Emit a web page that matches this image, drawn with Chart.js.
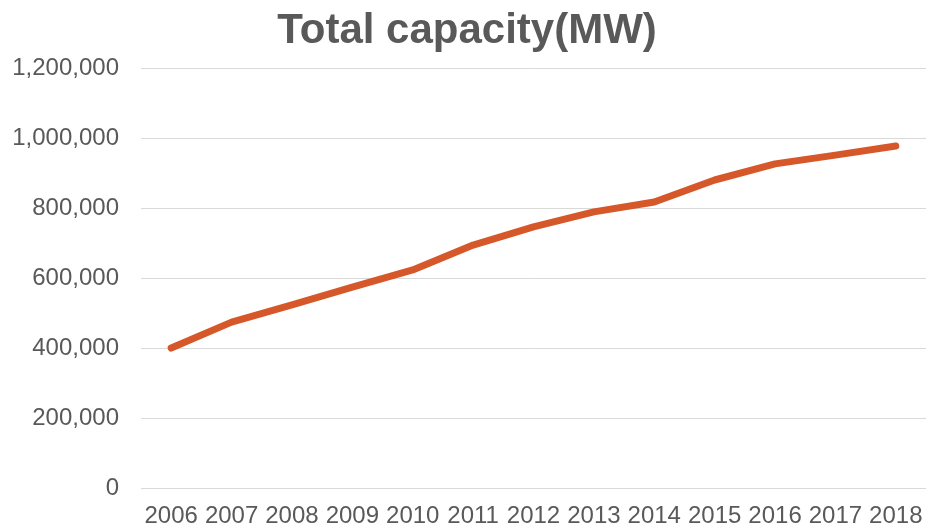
<!DOCTYPE html>
<html>
<head>
<meta charset="utf-8">
<script src="https://cdn.jsdelivr.net/npm/chart.js@4"></script>
<style>
  html, body { margin: 0; padding: 0; background: #ffffff; }
  #wrap { width: 926px; height: 532px; }
</style>
</head>
<body>
<div id="wrap"><canvas id="c" width="926" height="532"></canvas></div>
<script>
const years = ['2006','2007','2008','2009','2010','2011','2012','2013','2014','2015','2016','2017','2018'];
const capacityMW = [400000, 474000, 523000, 574000, 623000, 694000, 746000, 789000, 817000, 880000, 926000, 951000, 977000];
const yTicks = [0, 200000, 400000, 600000, 800000, 1000000, 1200000];
const chartTitle = 'Total capacity(MW)';

const textColor = '#595959';
const fontFamily = '"Liberation Sans", Arial, sans-serif';

new Chart(document.getElementById('c'), {
  type: 'line',
  data: {
    labels: years,
    datasets: [{
      label: chartTitle,
      data: capacityMW,
      borderColor: '#D6582A',
      backgroundColor: '#D6582A',
      borderWidth: 7,
      borderCapStyle: 'round',
      borderJoinStyle: 'round',
      tension: 0,
      pointRadius: 0,
      pointHoverRadius: 0,
      fill: false
    }]
  },
  options: {
    responsive: false,
    animation: false,
    layout: { padding: { left: 8, right: 0, top: 0, bottom: 0 } },
    plugins: {
      legend: { display: false },
      tooltip: { enabled: false },
      title: {
        display: true,
        text: chartTitle,
        color: textColor,
        font: { family: fontFamily, size: 42, weight: 'bold' },
        padding: { top: 6, bottom: 11.6 }
      }
    },
    scales: {
      x: {
        offset: true,
        grid: { display: false, drawTicks: false },
        border: { display: false },
        ticks: {
          color: textColor,
          font: { family: fontFamily, size: 24 },
          autoSkip: false,
          maxRotation: 0,
          minRotation: 0,
          padding: 14
        },
        afterFit: (s) => { s.height = 44; s.paddingLeft = 0; s.paddingRight = 0; }
      },
      y: {
        min: 0,
        max: 1200000,
        afterBuildTicks: (s) => { s.ticks = yTicks.map(v => ({ value: v })); },
        grid: { color: '#d9d9d9', lineWidth: 1, drawTicks: false },
        border: { display: false },
        ticks: {
          color: textColor,
          font: { family: fontFamily, size: 24 },
          padding: 22,
          callback: (v) => Number(v).toLocaleString('en-US')
        },
        afterFit: (s) => { s.width = 133; }
      }
    }
  }
});
</script>
</body>
</html>
